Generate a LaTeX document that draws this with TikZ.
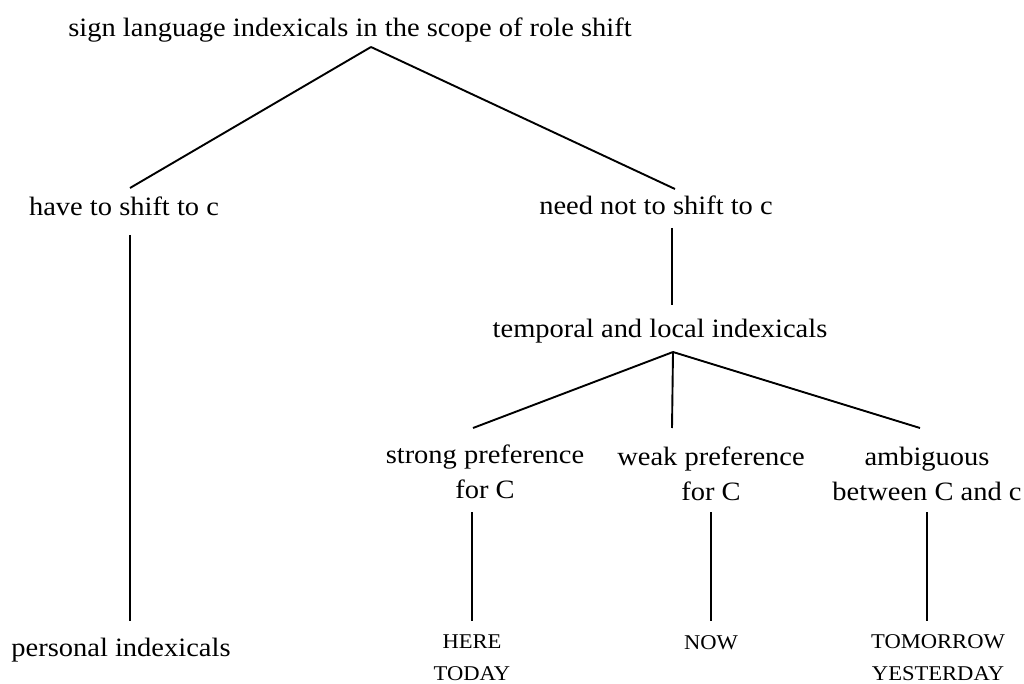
\documentclass[tikz,border=0pt]{standalone}
\usepackage{fontspec}
\setmainfont{Liberation Serif}[FakeStretch=1.075]
\usepackage{tikz}

\begin{document}
\begin{tikzpicture}[x=1pt, y=-1pt, line width=1.9pt,
  every node/.style={inner sep=0pt, outer sep=0pt, anchor=base, align=center},
  lab/.style={font=\fontsize{26.5}{35}\selectfont},
  caps/.style={font=\fontsize{21}{32}\selectfont}]
\useasboundingbox (0,0) rectangle (1024,684);

\node[lab] (root) at (350,37) {sign language indexicals in the scope of role shift};
\node[lab] (have) at (124,216) {have to shift to c};
\node[lab] (need) at (656,215) {need not to shift to c};
\node[lab] (pers) at (121,656) {personal indexicals};
\node[lab] (temp) at (660,337) {temporal and local indexicals};

\node[lab] (strong) at (485,498) {strong preference\\for C};
\node[lab] (weak) at (711,500) {weak preference\\for C};
\node[lab] (amb) at (927,500) {ambiguous\\between C and c};

\node[caps] (here) at (472,680) {HERE\\TODAY};
\node[caps] (now) at (711,649) {NOW};
\node[caps] (tom) at (938,680) {TOMORROW\\YESTERDAY};

\coordinate (rootfork) at ([shift={(21,10)}]root.base);
\coordinate (tempfork) at ([shift={(13,15)}]temp.base);

\draw (rootfork) -- ([shift={(6,-28)}]have.base);
\draw (rootfork) -- ([shift={(19,-26)}]need.base);
\draw ([shift={(6,19)}]have.base) -- ([shift={(9,-35)}]pers.base);
\draw ([shift={(16,13)}]need.base) -- ([shift={(12,-32)}]temp.base);

\draw (tempfork) -- ([shift={(-12,-70)}]strong.base);
\draw (tempfork) -- ([shift={(-39,-72)}]weak.base);
\draw (tempfork) -- ([shift={(-7,-72)}]amb.base);

\draw ([shift={(-13,14)}]strong.base) -- ([shift={(0,-59)}]here.base);
\draw ([shift={(0,12)}]weak.base) -- ([shift={(0,-28)}]now.base);
\draw ([shift={(0,12)}]amb.base) -- ([shift={(-11,-59)}]tom.base);
\end{tikzpicture}
\end{document}
